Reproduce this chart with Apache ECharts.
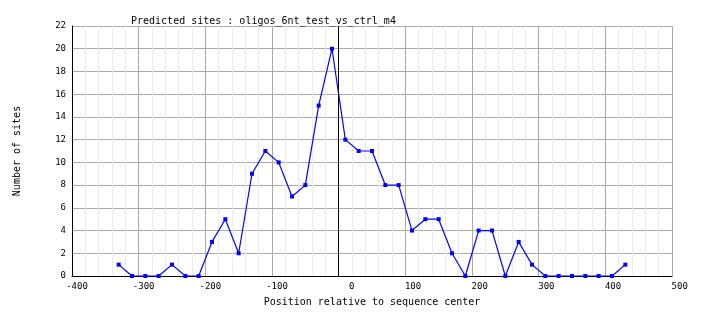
<!DOCTYPE html>
<html>
<head>
<meta charset="utf-8">
<script src="https://cdn.jsdelivr.net/npm/echarts@6/dist/echarts.min.js"></script>
<style>
html,body{margin:0;padding:0;background:#fff;}
#chart{width:704px;height:328px;}
</style>
</head>
<body>
<div id="chart"></div>
<script>
var positions = [-330,-310,-290,-270,-250,-230,-210,-190,-170,-150,-130,-110,-90,-70,-50,-30,-10,10,30,50,70,90,110,130,150,170,190,210,230,250,270,290,310,330,350,370,390,410,430];
var sites = [1,0,0,0,1,0,0,3,5,2,9,11,10,7,8,15,20,12,11,11,8,8,4,5,5,2,0,4,4,0,3,1,0,0,0,0,0,0,1];
var titleText = 'Predicted sites : oligos_6nt_test_vs_ctrl_m4';
var xName = 'Position relative to sequence center';
var yName = 'Number of sites';

var data = positions.map(function(p, i){ return [p, sites[i]]; });
var mono = 'DejaVu Sans Mono';
var chart = echarts.init(document.getElementById('chart'), null, {renderer:'canvas'});
chart.setOption({
  animation: false,
  backgroundColor: '#ffffff',
  title: {
    text: titleText,
    left: 126, top: 11,
    textStyle: {fontFamily: mono, fontSize: 10, fontWeight: 'normal', color: '#000'}
  },
  grid: {left: 72, right: 32, top: 26, bottom: 52, containLabel: false},
  xAxis: {
    type: 'value', min: -400, max: 500, interval: 100,
    name: xName, nameLocation: 'middle', nameGap: 21,
    nameTextStyle: {fontFamily: mono, fontSize: 10, color: '#000'},
    axisLine: {show: true, onZero: false, lineStyle: {color: '#000', width: 1}},
    axisTick: {show: false},
    axisLabel: {fontFamily: mono, fontSize: 9, color: '#000', margin: 6,
      padding: [0,0,0,10],
      formatter: function(v){ var s = String(v); while (s.length < 4) s = ' ' + s; return s; }},
    splitLine: {show: true, lineStyle: {color: '#aaaaaa', width: 1}},
    minorTick: {show: false, splitNumber: 5},
    minorSplitLine: {show: true, lineStyle: {color: '#ebebeb', width: 1}}
  },
  yAxis: {
    type: 'value', min: 0, max: 22, interval: 2,
    name: yName, nameLocation: 'middle', nameGap: 50, nameRotate: 90,
    nameTextStyle: {fontFamily: mono, fontSize: 10, color: '#000'},
    axisLine: {show: true, onZero: false, lineStyle: {color: '#000', width: 1}},
    axisTick: {show: false},
    axisLabel: {fontFamily: mono, fontSize: 9, color: '#000', margin: 6},
    splitLine: {show: true, lineStyle: {color: '#aaaaaa', width: 1}}
  },
  series: [{
    type: 'line',
    data: data,
    showAllSymbol: true,
    symbol: 'rect',
    symbolSize: 4,
    lineStyle: {color: '#0000ff', width: 1.2},
    itemStyle: {color: '#0000ff'},
    z: 3,
    markLine: {
      silent: true,
      symbol: ['none','none'],
      label: {show: false},
      lineStyle: {color: '#000', width: 1, type: 'solid'},
      data: [{xAxis: 0}]
    }
  }]
});
</script>
</body>
</html>
